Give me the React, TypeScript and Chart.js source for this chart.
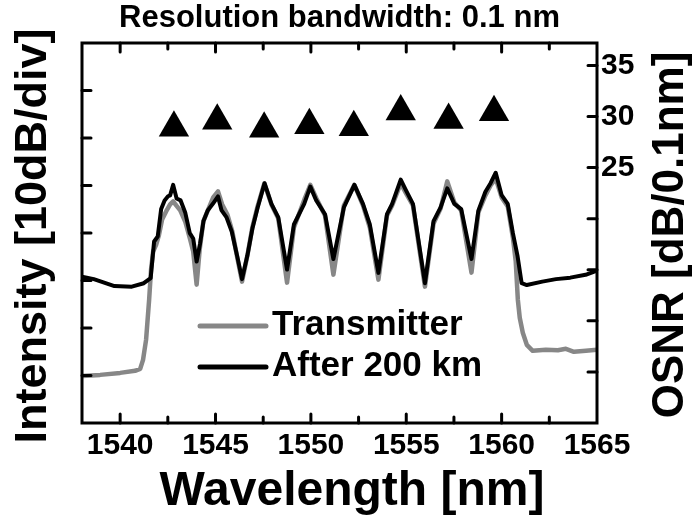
import React, { useEffect, useRef } from "react";
import { Chart, registerables } from "chart.js";

Chart.register(...registerables);

const FONT = "'Liberation Sans', Arial, Helvetica, sans-serif";

const TITLE = "Resolution bandwidth: 0.1 nm";
const X_TITLE = "Wavelength [nm]";
const Y_TITLE = "Intensity [10dB/div]";
const Y2_TITLE = "OSNR [dB/0.1nm]";
const LEGEND_LABELS = ["Transmitter", "After 200 km"];

const X_MIN = 1538;
const X_MAX = 1565;
const X_TICK_LABELS = [1540, 1545, 1550, 1555, 1560, 1565];
const INT_MIN = 0;
const INT_MAX = 80; // 8 divisions of 10 dB
const OSNR_MIN = 0;
const OSNR_MAX = 37.2;
const OSNR_TICK_LABELS = [25, 30, 35];

// Transmitter spectrum (grey)
const txWavelength = [
  1538.0, 1538.95, 1540.0, 1540.78, 1541.05, 1541.2, 1541.36, 1541.52, 1541.62, 1541.73,
  1541.89, 1542.04, 1542.2, 1542.41, 1542.62, 1542.78, 1542.94, 1543.15, 1543.41, 1543.67,
  1543.83, 1544.01, 1544.17, 1544.36, 1544.62, 1544.88, 1545.13, 1545.35, 1545.62, 1545.88,
  1546.14, 1546.39, 1546.67, 1546.93, 1547.19, 1547.56, 1547.93, 1548.29, 1548.75, 1549.11,
  1549.66, 1549.97, 1550.29, 1550.74, 1551.18, 1551.73, 1552.28, 1552.73, 1553.09, 1553.54,
  1553.99, 1554.26, 1554.71, 1554.99, 1555.35, 1555.98, 1556.43, 1556.8, 1557.15, 1557.52,
  1557.88, 1558.42, 1558.78, 1559.15, 1559.42, 1559.69, 1560.0, 1560.32, 1560.59, 1560.74,
  1560.85, 1560.95, 1561.11, 1561.32, 1561.63, 1562.32, 1562.95, 1563.37, 1563.79, 1564.42,
  1565.0,
];
const txIntensity = [
  9.92, 10.13, 10.55, 10.98, 11.4, 13.3, 17.52, 25.96, 32.3, 36.1,
  37.57, 39.68, 42.85, 44.54, 46.02, 46.65, 45.8, 44.75, 42.43, 38.63,
  36.1, 29.13, 36.52, 42.43, 44.96, 47.49, 48.76, 46.02, 43.91, 40.32,
  34.83, 29.76, 35.25, 41.16, 45.38, 50.45, 46.02, 43.06, 29.55, 41.16,
  47.07, 50.13, 47.28, 43.69, 31.24, 45.8, 50.13, 45.8, 41.16, 30.18,
  43.69, 45.8, 50.45, 48.34, 45.8, 28.71, 42.0, 45.17, 50.87, 46.44,
  44.75, 31.66, 44.33, 47.92, 50.03, 51.5, 47.49, 45.59, 39.05, 33.98,
  25.96, 22.16, 19.0, 16.46, 15.2, 15.41, 15.3, 15.62, 14.99, 15.2,
  15.41,
];

// After 200 km spectrum (black)
const rxWavelength = [
  1538.0, 1538.62, 1539.7, 1540.61, 1541.24, 1541.6, 1541.78, 1541.97, 1542.15, 1542.33,
  1542.51, 1542.62, 1542.78, 1542.96, 1543.17, 1543.41, 1543.65, 1543.83, 1544.01, 1544.19,
  1544.37, 1544.59, 1544.86, 1545.13, 1545.31, 1545.58, 1545.85, 1546.13, 1546.39, 1546.67,
  1546.94, 1547.21, 1547.57, 1547.93, 1548.29, 1548.75, 1549.11, 1549.65, 1549.97, 1550.28,
  1550.74, 1551.18, 1551.73, 1552.28, 1552.73, 1553.09, 1553.54, 1553.99, 1554.26, 1554.71,
  1554.98, 1555.35, 1555.98, 1556.43, 1556.8, 1557.15, 1557.52, 1557.88, 1558.42, 1558.78,
  1559.15, 1559.42, 1559.69, 1560.0, 1560.32, 1560.59, 1560.83, 1561.05, 1561.32, 1562.13,
  1562.85, 1563.6, 1564.4, 1565.0,
];
const rxIntensity = [
  30.8, 30.29, 28.83, 28.71, 29.43, 30.5, 38.21, 39.26, 45.04, 46.86,
  47.73, 47.92, 50.13, 47.28, 46.86, 44.33, 39.96, 38.84, 33.98, 37.78,
  42.51, 44.75, 46.14, 47.7, 44.83, 43.27, 40.32, 35.25, 30.29, 35.25,
  41.06, 45.38, 50.49, 46.14, 43.27, 32.3, 41.79, 46.14, 49.77, 46.86,
  43.95, 34.51, 45.38, 50.13, 46.14, 41.79, 31.6, 43.95, 46.14, 51.23,
  49.03, 46.14, 29.43, 42.51, 45.4, 49.39, 46.14, 45.04, 34.51, 44.69,
  48.68, 50.49, 52.69, 47.96, 46.14, 39.96, 35.25, 29.43, 29.04, 29.76,
  30.29, 30.6, 31.2, 32.1,
];

// OSNR per channel (triangles, right axis)
const channelWavelength = [1542.82, 1545.09, 1547.55, 1549.92, 1552.25, 1554.71, 1557.22, 1559.6];
const channelOsnr = [28.9, 29.6, 28.8, 29.15, 28.96, 30.5, 29.67, 30.42];

const GREY = "#878787";
const BLACK = "#000000";

const framePlugin = {
  id: "frameTicksTitles",
  afterDraw(chart: any) {
    const { ctx, chartArea, scales } = chart;
    const { left, right, top, bottom } = chartArea;
    ctx.save();
    // inward ticks
    ctx.strokeStyle = BLACK;
    ctx.lineWidth = 3;
    ctx.lineCap = "round";
    ctx.beginPath();
    for (let v = 1540; v < X_MAX; v += 2.5) {
      const px = scales.x.getPixelForValue(v);
      const len = v % 5 === 0 ? 9 : 6;
      ctx.moveTo(px, bottom);
      ctx.lineTo(px, bottom - len);
      ctx.moveTo(px, top);
      ctx.lineTo(px, top + len);
    }
    for (let v = INT_MIN + 10; v < INT_MAX; v += 10) {
      const py = scales.y.getPixelForValue(v);
      ctx.moveTo(left, py);
      ctx.lineTo(left + 9, py);
    }
    for (let v = 5; v < OSNR_MAX; v += 5) {
      const py = scales.y2.getPixelForValue(v);
      ctx.moveTo(right, py);
      ctx.lineTo(right - 9, py);
    }
    ctx.stroke();
    // frame
    ctx.lineCap = "butt";
    ctx.lineWidth = 3;
    ctx.strokeRect(left, top, right - left, bottom - top);

    // legend
    const ds = chart.data.datasets;
    const legendItems = [ds[2], ds[1]];
    legendItems.forEach((d: any, i: number) => {
      const y = top + 283 + i * 41;
      ctx.strokeStyle = d.borderColor;
      ctx.lineWidth = 5;
      ctx.lineCap = "round";
      ctx.beginPath();
      ctx.moveTo(left + 118, y);
      ctx.lineTo(left + 184, y);
      ctx.stroke();
      ctx.fillStyle = BLACK;
      ctx.font = `bold 35px ${FONT}`;
      ctx.textAlign = "left";
      ctx.textBaseline = "middle";
      ctx.fillText(d.label, left + 190, y - 1);
    });

    // axis titles
    ctx.fillStyle = BLACK;
    ctx.textAlign = "center";
    ctx.textBaseline = "alphabetic";
    ctx.font = `bold 48px ${FONT}`;
    ctx.fillText(X_TITLE, 352, 505);

    ctx.save();
    ctx.translate(46, 236);
    ctx.rotate(-Math.PI / 2);
    ctx.font = `bold 45px ${FONT}`;
    ctx.fillText(Y_TITLE, 0, 0);
    ctx.restore();

    ctx.save();
    ctx.translate(683, 235);
    ctx.rotate(-Math.PI / 2);
    ctx.font = `bold 44px ${FONT}`;
    ctx.fillText(Y2_TITLE, 0, 0);
    ctx.restore();

    ctx.restore();
  },
};

export default function App() {
  const ref = useRef<HTMLCanvasElement | null>(null);

  useEffect(() => {
    if (!ref.current) return;
    const tx = txWavelength.map((x, i) => ({ x, y: txIntensity[i] }));
    const rx = rxWavelength.map((x, i) => ({ x, y: rxIntensity[i] }));
    const osnr = channelWavelength.map((x, i) => ({ x, y: channelOsnr[i] }));
    const tickFont = { family: FONT, size: 30, weight: "bold" as const };

    const chart = new Chart(ref.current, {
      type: "line",
      data: {
        datasets: [
          {
            label: "OSNR",
            data: osnr,
            yAxisID: "y2",
            showLine: false,
            pointStyle: "triangle",
            pointRadius: 17.5,
            pointBackgroundColor: BLACK,
            pointBorderColor: BLACK,
            pointBorderWidth: 0,
            order: 0,
          },
          {
            label: LEGEND_LABELS[1],
            data: rx,
            yAxisID: "y",
            borderColor: BLACK,
            borderWidth: 4,
            pointRadius: 0,
            tension: 0,
            borderJoinStyle: "round",
            borderCapStyle: "round",
            order: 1,
          },
          {
            label: LEGEND_LABELS[0],
            data: tx,
            yAxisID: "y",
            borderColor: GREY,
            borderWidth: 4.5,
            pointRadius: 0,
            tension: 0,
            borderJoinStyle: "round",
            borderCapStyle: "round",
            order: 2,
          },
        ],
      },
      options: {
        responsive: false,
        animation: false,
        devicePixelRatio: 1,
        layout: { padding: 0 },
        plugins: {
          legend: { display: false },
          tooltip: { enabled: false },
          title: {
            display: true,
            text: TITLE,
            fullSize: false,
            color: BLACK,
            font: { family: FONT, size: 31, weight: "bold", lineHeight: 1.2 },
            padding: { top: 0, bottom: 5.8 },
          },
        },
        scales: {
          x: {
            type: "linear",
            position: "bottom",
            min: X_MIN,
            max: X_MAX,
            afterFit: (s: any) => {
              s.height = 92;
            },
            afterBuildTicks: (s: any) => {
              s.ticks = X_TICK_LABELS.map((v) => ({ value: v }));
            },
            grid: { display: false, drawTicks: false },
            border: { display: false },
            ticks: {
              padding: 5,
              color: BLACK,
              font: tickFont,
              maxRotation: 0,
              autoSkip: false,
              callback: (v: any) => String(v),
            },
          },
          y: {
            type: "linear",
            position: "left",
            min: INT_MIN,
            max: INT_MAX,
            afterFit: (s: any) => {
              s.width = 82;
            },
            grid: { display: false, drawTicks: false },
            border: { display: false },
            ticks: { display: false, stepSize: 10 },
          },
          y2: {
            type: "linear",
            position: "right",
            min: OSNR_MIN,
            max: OSNR_MAX,
            afterFit: (s: any) => {
              s.width = 98;
            },
            afterBuildTicks: (s: any) => {
              s.ticks = OSNR_TICK_LABELS.map((v) => ({ value: v }));
            },
            grid: { display: false, drawTicks: false },
            border: { display: false },
            ticks: {
              padding: 4,
              color: BLACK,
              font: tickFont,
              autoSkip: false,
              callback: (v: any) => String(v),
            },
          },
        },
      },
      plugins: [framePlugin],
    });
    return () => chart.destroy();
  }, []);

  return (
    <div style={{ position: "fixed", left: 0, top: 0, width: 695, height: 515, background: "#fff" }}>
      <canvas ref={ref} width={695} height={515} style={{ display: "block" }} />
    </div>
  );
}
